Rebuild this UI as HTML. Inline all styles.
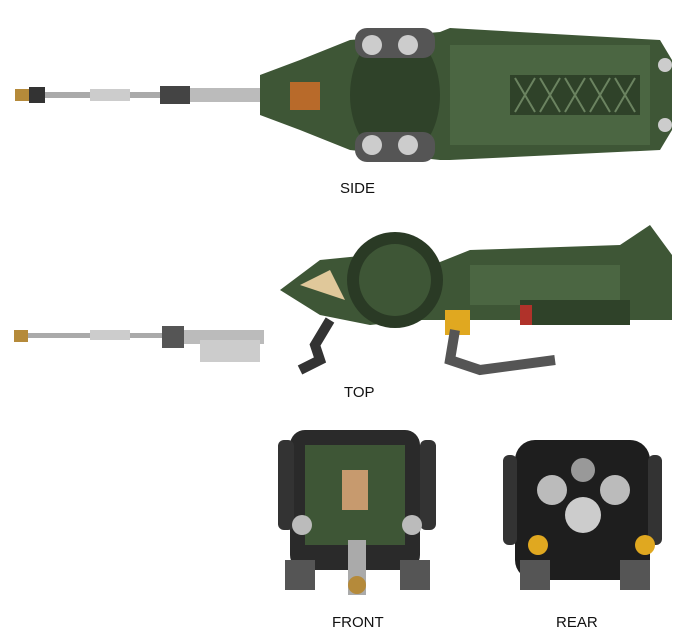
<!DOCTYPE html>
<html><head><meta charset="utf-8"><style>
html,body{margin:0;padding:0;background:#fff;width:700px;height:638px;overflow:hidden}
text{font-family:"Liberation Sans",sans-serif;font-size:15px;fill:#111}
</style></head><body>
<svg width="700" height="638" viewBox="0 0 700 638" xmlns="http://www.w3.org/2000/svg">
<rect x="15" y="89" width="14" height="12" fill="#b58a3a"/>
<rect x="29" y="87" width="16" height="16" fill="#333"/>
<rect x="45" y="92" width="120" height="6" fill="#aaa"/>
<rect x="90" y="89" width="40" height="12" fill="#ccc"/>
<rect x="160" y="86" width="30" height="18" fill="#444"/>
<rect x="190" y="88" width="75" height="14" fill="#bbb"/>
<path d="M260 75 L300 60 L350 40 L440 32 L450 28 L660 40 L672 60 L672 130 L660 150 L450 160 L440 160 L350 150 L300 130 L260 115 Z" fill="#3e5636"/>
<ellipse cx="395" cy="95" rx="45" ry="65" fill="#2f4229"/>
<rect x="355" y="28" width="80" height="30" rx="12" fill="#555"/>
<rect x="355" y="132" width="80" height="30" rx="12" fill="#555"/>
<circle cx="372" cy="45" r="10" fill="#ccc"/><circle cx="408" cy="45" r="10" fill="#ccc"/>
<circle cx="372" cy="145" r="10" fill="#ccc"/><circle cx="408" cy="145" r="10" fill="#ccc"/>
<rect x="290" y="82" width="30" height="28" fill="#b86a2a"/>
<rect x="450" y="45" width="200" height="100" fill="#4b6642"/>
<rect x="510" y="75" width="130" height="40" fill="#2f4229"/>
<path d="M515 78 L535 112 M535 78 L515 112 M540 78 L560 112 M560 78 L540 112 M565 78 L585 112 M585 78 L565 112 M590 78 L610 112 M610 78 L590 112 M615 78 L635 112 M635 78 L615 112" stroke="#6b8360" stroke-width="2"/>
<circle cx="665" cy="65" r="7" fill="#ccc"/><circle cx="665" cy="125" r="7" fill="#ccc"/>
<text x="340" y="193">SIDE</text>
<rect x="14" y="330" width="14" height="12" fill="#b58a3a"/>
<rect x="28" y="333" width="140" height="5" fill="#aaa"/>
<rect x="90" y="330" width="40" height="10" fill="#ccc"/>
<rect x="162" y="326" width="22" height="22" fill="#555"/>
<rect x="184" y="330" width="80" height="14" fill="#bbb"/>
<rect x="200" y="340" width="60" height="22" fill="#ccc"/>
<path d="M280 290 L320 260 L370 255 L420 270 L470 250 L620 245 L650 225 L672 255 L672 320 L470 320 L420 320 L370 325 L320 315 Z" fill="#3e5636"/>
<circle cx="395" cy="280" r="48" fill="#2a3a25"/>
<circle cx="395" cy="280" r="36" fill="#3e5636"/>
<path d="M300 285 L330 270 L345 300 Z" fill="#e0c89a"/>
<rect x="470" y="265" width="150" height="40" fill="#4b6642"/>
<rect x="520" y="300" width="110" height="25" fill="#2f4229"/>
<rect x="520" y="305" width="12" height="20" fill="#b0322a"/>
<rect x="445" y="310" width="25" height="25" fill="#e0a820"/>
<path d="M330 320 L315 345 L320 360 L300 370" stroke="#333" stroke-width="10" fill="none"/>
<path d="M455 330 L450 360 L480 370 L555 360" stroke="#555" stroke-width="10" fill="none"/>
<text x="344" y="397">TOP</text>
<rect x="290" y="430" width="130" height="140" rx="15" fill="#2a2a2a"/>
<rect x="278" y="440" width="16" height="90" rx="6" fill="#333"/>
<rect x="420" y="440" width="16" height="90" rx="6" fill="#333"/>
<rect x="305" y="445" width="100" height="100" fill="#3e5636"/>
<rect x="342" y="470" width="26" height="40" fill="#c79a6e"/>
<circle cx="302" cy="525" r="10" fill="#bbb"/><circle cx="412" cy="525" r="10" fill="#bbb"/>
<rect x="348" y="540" width="18" height="55" fill="#aaa"/>
<circle cx="357" cy="585" r="9" fill="#b58a3a"/>
<rect x="285" y="560" width="30" height="30" fill="#555"/>
<rect x="400" y="560" width="30" height="30" fill="#555"/>
<text x="332" y="627">FRONT</text>
<rect x="515" y="440" width="135" height="140" rx="20" fill="#1e1e1e"/>
<rect x="503" y="455" width="14" height="90" rx="6" fill="#333"/>
<rect x="648" y="455" width="14" height="90" rx="6" fill="#333"/>
<circle cx="552" cy="490" r="15" fill="#bbb"/>
<circle cx="615" cy="490" r="15" fill="#bbb"/>
<circle cx="583" cy="515" r="18" fill="#ccc"/>
<circle cx="583" cy="470" r="12" fill="#999"/>
<circle cx="538" cy="545" r="10" fill="#e0a820"/>
<circle cx="645" cy="545" r="10" fill="#e0a820"/>
<rect x="520" y="560" width="30" height="30" fill="#555"/>
<rect x="620" y="560" width="30" height="30" fill="#555"/>
<text x="556" y="627">REAR</text>
</svg>
</body></html>
